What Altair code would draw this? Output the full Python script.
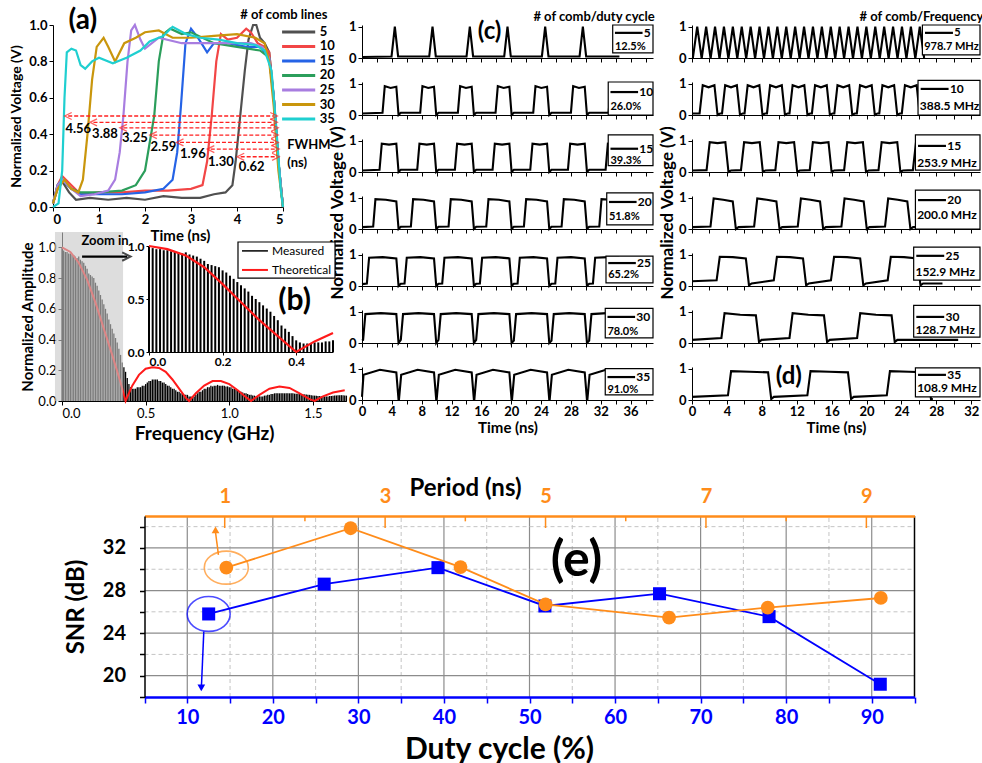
import altair as alt
import pandas as pd

FONT = "Lato"
ORANGE = "#ff8c1a"
BLUE = "#0000ff"
W, H = 982, 763
ONE = pd.DataFrame({"k": [0]})

# ---------------- (a) pulse shapes ----------------
a_names = ["5", "10", "15", "20", "25", "30", "35"]
a_colors = ["#505050", "#f24646", "#2563e6", "#2b9e5b", "#a87de0", "#c9960c", "#1fcfd0"]
a_t_5 = [0, 0.1, 0.2, 0.35, 0.5, 0.8, 1.2, 1.6, 2.0, 2.4, 2.8, 3.2, 3.5, 3.75, 3.9, 3.97, 4.07, 4.17, 4.25, 4.35, 4.42, 4.5, 4.6, 4.7, 4.8, 4.9, 5.0]
a_v_5 = [0.02, 0.1, 0.14, 0.08, 0.04, 0.05, 0.04, 0.05, 0.04, 0.06, 0.05, 0.05, 0.07, 0.08, 0.12, 0.25, 0.5, 0.75, 0.92, 1.0, 1.0, 0.93, 0.9, 0.85, 0.6, 0.25, 0.0]
a_t_10 = [0, 0.1, 0.2, 0.4, 0.6, 1.0, 1.5, 2.0, 2.5, 3.0, 3.25, 3.35, 3.45, 3.55, 3.65, 3.8, 4.0, 4.2, 4.3, 4.45, 4.6, 4.7, 4.8, 4.9, 5.0]
a_v_10 = [0.02, 0.12, 0.17, 0.12, 0.07, 0.08, 0.08, 0.09, 0.09, 0.1, 0.12, 0.25, 0.5, 0.8, 0.95, 0.92, 0.93, 0.98, 0.96, 0.9, 0.88, 0.85, 0.6, 0.25, 0.0]
a_t_15 = [0, 0.1, 0.2, 0.4, 0.6, 1.0, 1.5, 2.0, 2.4, 2.6, 2.7, 2.78, 2.88, 3.0, 3.15, 3.35, 3.5, 3.8, 4.2, 4.5, 4.7, 4.8, 4.9, 5.0]
a_v_15 = [0.02, 0.12, 0.15, 0.1, 0.07, 0.07, 0.07, 0.08, 0.1, 0.15, 0.3, 0.55, 0.9, 0.98, 0.93, 0.85, 0.9, 0.9, 0.88, 0.88, 0.82, 0.6, 0.25, 0.0]
a_t_20 = [0, 0.1, 0.2, 0.4, 0.6, 1.0, 1.5, 1.8, 2.0, 2.1, 2.2, 2.3, 2.4, 2.55, 2.8, 3.0, 3.5, 4.0, 4.5, 4.7, 4.8, 4.9, 5.0]
a_v_20 = [0.02, 0.12, 0.15, 0.1, 0.08, 0.08, 0.09, 0.12, 0.2, 0.35, 0.5, 0.8, 0.95, 0.98, 0.95, 0.96, 0.9, 0.88, 0.86, 0.82, 0.6, 0.25, 0.0]
a_t_25 = [0, 0.1, 0.2, 0.4, 0.6, 0.9, 1.2, 1.35, 1.45, 1.53, 1.62, 1.7, 1.78, 1.9, 2.0, 2.3, 2.8, 3.3, 3.8, 4.3, 4.55, 4.7, 4.8, 4.9, 5.0]
a_v_25 = [0.02, 0.12, 0.15, 0.1, 0.06, 0.07, 0.09, 0.15, 0.3, 0.5, 0.8, 0.97, 1.0, 0.92, 0.87, 0.93, 0.9, 0.9, 0.9, 0.9, 0.88, 0.82, 0.6, 0.25, 0.0]
a_t_30 = [0, 0.1, 0.25, 0.4, 0.55, 0.65, 0.75, 0.85, 0.95, 1.1, 1.2, 1.35, 1.55, 1.8, 2.0, 2.3, 2.6, 3.0, 3.5, 4.0, 4.4, 4.6, 4.7, 4.8, 4.9, 5.0]
a_v_30 = [0.02, 0.1, 0.15, 0.1, 0.08, 0.15, 0.4, 0.7, 0.88, 0.93, 0.88, 0.8, 0.9, 0.93, 0.96, 0.97, 0.93, 0.93, 0.94, 0.95, 0.93, 0.9, 0.8, 0.55, 0.2, 0.0]
a_t_35 = [0, 0.12, 0.2, 0.25, 0.3, 0.4, 0.5, 0.6, 0.7, 0.85, 1.0, 1.3, 1.6, 1.9, 2.1, 2.4, 2.6, 2.9, 3.2, 3.6, 4.0, 4.4, 4.6, 4.75, 4.85, 4.95, 5.0]
a_v_35 = [0.0, 0.02, 0.2, 0.6, 0.85, 0.87, 0.86, 0.78, 0.76, 0.8, 0.82, 0.79, 0.82, 0.86, 0.91, 0.94, 0.99, 0.95, 0.93, 0.92, 0.9, 0.89, 0.86, 0.75, 0.45, 0.1, 0.0]

fwhm_text = ["4.56", "3.88", "3.25", "2.59", "1.96", "1.30", "0.62"]
fwhm_level = [0.50, 0.465, 0.435, 0.395, 0.355, 0.318, 0.276]
fwhm_left = [0.33, 0.88, 1.53, 2.18, 2.76, 3.43, 4.08]
fwhm_right = [4.8, 4.8, 4.82, 4.82, 4.82, 4.84, 4.84]
fwhm_tx = [0.55, 1.13, 1.78, 2.4, 3.04, 3.65, 4.32]
fwhm_ty = [0.43, 0.40, 0.38, 0.33, 0.29, 0.25, 0.22]
a_leg_v = [0.962, 0.882, 0.802, 0.723, 0.643, 0.563, 0.484]

# ---------------- (b) spectrum ----------------
b_meas = [1.0, 0.98, 0.97, 0.97, 0.96, 0.96, 0.95, 0.95, 0.94, 0.93,
          0.94, 0.92, 0.91, 0.90, 0.88, 0.86, 0.83, 0.82, 0.81, 0.80,
          0.77, 0.75, 0.72, 0.69, 0.66, 0.63, 0.60, 0.57, 0.53, 0.50,
          0.47, 0.44, 0.41, 0.38, 0.34, 0.30, 0.25, 0.22, 0.19, 0.15,
          0.11, 0.09, 0.08, 0.08, 0.08, 0.09, 0.09, 0.09, 0.10, 0.10,
          0.11, 0.12, 0.13, 0.13, 0.14, 0.14, 0.14, 0.14, 0.13, 0.13,
          0.12, 0.12, 0.11, 0.10, 0.10, 0.09, 0.08, 0.08, 0.07, 0.06,
          0.06, 0.05, 0.05, 0.04, 0.04, 0.04, 0.03, 0.03, 0.03, 0.03,
          0.04, 0.05, 0.06, 0.06, 0.07, 0.08, 0.08, 0.09, 0.09, 0.10,
          0.095, 0.10, 0.10, 0.105, 0.10, 0.10, 0.10, 0.10, 0.095, 0.095,
          0.09, 0.09, 0.08, 0.08, 0.075, 0.07, 0.065, 0.06, 0.055, 0.05,
          0.05, 0.045, 0.04, 0.04, 0.035, 0.035, 0.03, 0.03, 0.03, 0.03,
          0.03, 0.035, 0.035, 0.04, 0.04, 0.045, 0.045, 0.05, 0.05, 0.05,
          0.05, 0.05, 0.05, 0.05, 0.05, 0.05, 0.05, 0.05, 0.05, 0.048,
          0.048, 0.047, 0.046, 0.045, 0.044, 0.043, 0.042, 0.04, 0.04, 0.038,
          0.036, 0.035, 0.034, 0.033, 0.032, 0.031, 0.03, 0.03, 0.03, 0.03,
          0.032, 0.033, 0.034, 0.035, 0.036, 0.037, 0.038, 0.038, 0.037, 0.036, 0.035]
b_freq = [round(0.01 * i, 2) for i in range(len(b_meas))]  # comb-line grid, 10 MHz spacing
b_theo_f = [0, 0.05, 0.1, 0.15, 0.2, 0.25, 0.3, 0.35, 0.38, 0.42, 0.46, 0.5, 0.54, 0.58, 0.62, 0.66, 0.7, 0.74, 0.76,
            0.8, 0.85, 0.9, 0.95, 1.0, 1.05, 1.1, 1.13, 1.18, 1.24, 1.3, 1.36, 1.42, 1.48, 1.51, 1.56, 1.62, 1.69]
b_theo_a = [1.0, 0.97, 0.9, 0.79, 0.64, 0.47, 0.3, 0.12, 0.0, 0.1, 0.17, 0.21, 0.22, 0.215, 0.19, 0.14, 0.08, 0.02, 0.0,
            0.05, 0.1, 0.13, 0.13, 0.11, 0.07, 0.025, 0.0, 0.04, 0.08, 0.095, 0.085, 0.05, 0.012, 0.0, 0.03, 0.055, 0.07]
ins_theo_f = [0, 0.05, 0.1, 0.15, 0.2, 0.25, 0.3, 0.35, 0.4, 0.45, 0.5]
ins_theo_a = [1.0, 0.97, 0.91, 0.8, 0.64, 0.47, 0.3, 0.15, 0.0, 0.1, 0.18]

# ---------------- (c) duty-cycle traces (edge times, ns) ----------------
c_rise_1 = [4.18, 9.23, 14.23, 19.28, 24.33, 29.38]
c_fall_1 = [4.62, 9.67, 14.67, 19.72, 24.77, 29.82]
c_fall = [4.75, 9.8, 14.85, 19.9, 24.95, 30.0, 35.05]
c_rise_2 = [2.9, 7.95, 13.0, 18.05, 23.1, 28.15, 33.2]
c_rise_3 = [2.5, 7.55, 12.6, 17.65, 22.7, 27.75, 32.8]
c_rise_4 = [1.65, 6.7, 11.75, 16.8, 21.85, 26.9, 31.95]
c_rise_5 = [0.8, 5.85, 10.9, 15.95, 21.0, 26.05, 31.1]
c_rise_6 = [0.3, 5.35, 10.4, 15.45, 20.5, 25.55, 30.6]
c_rise_7 = [0.05, 5.1, 10.15, 15.2, 20.25, 25.3, 30.35]
c_low0 = [0.03, 0.05, 0.05, 0.06, 0.06, 0.08, 0.1]
c_lowpre = [0.05, 0.07, 0.07, 0.08, 0.08, 0.1, 0.0]
c_low = [0.05, 0.07, 0.07, 0.07, 0.07, 0.08, 0.0]
c_h1 = [1.0, 0.92, 0.9, 0.95, 0.9, 0.92, 0.8]
c_hm = [1.0, 0.86, 0.87, 0.93, 0.92, 0.95, 0.96]
c_h2 = [1.0, 0.9, 0.9, 0.88, 0.88, 0.92, 0.88]
c_under = [0.05, 0.0, 0.0, 0.0, 0.0, 0.0, 0.0]
c_num = ["5", "10", "15", "20", "25", "30", "35"]
c_pct = ["12.5%", "26.0%", "39.3%", "51.8%", "65.2%", "78.0%", "91.0%"]

# ---------------- (d) repetition-rate traces (edge times, ns) ----------------
d_rise_1 = [0.35, 1.37, 2.39, 3.41, 4.43, 5.45, 6.47, 7.49, 8.51, 9.53, 10.55, 11.57, 12.59, 13.61, 14.63, 15.65, 16.67,
            17.69, 18.71, 19.73, 20.75, 21.77, 22.79, 23.81, 24.83, 25.85]
d_fall_1 = [0.85, 1.87, 2.89, 3.91, 4.93, 5.95, 6.97, 7.99, 9.01, 10.03, 11.05, 12.07, 13.09, 14.11, 15.13, 16.15, 17.17,
            18.19, 19.21, 20.23, 21.25, 22.27, 23.29, 24.31, 25.33, 26.35]
d_rise_2 = [1.05, 3.62, 6.2, 8.77, 11.35, 13.92, 16.49, 19.07, 21.64, 24.22]
d_fall_2 = [2.75, 5.32, 7.9, 10.47, 13.05, 15.62, 18.19, 20.77, 23.34, 25.92]
d_rise_3 = [1.85, 5.79, 9.73, 13.67, 17.61, 21.55, 25.49]
d_fall_3 = [4.0, 7.94, 11.88, 15.82, 19.76, 23.7, 27.64]
d_rise_4 = [2.3, 7.3, 12.3, 17.3, 22.3]
d_fall_4 = [4.85, 9.85, 14.85, 19.85, 24.85]
d_rise_5 = [3.0, 9.55, 16.1, 22.6]
d_fall_5 = [6.35, 12.9, 19.45, 26.0]
d_rise_6 = [3.55, 11.35, 19.1]
d_fall_6 = [7.5, 15.3, 23.05]
d_rise_7 = [4.3, 13.4, 22.5]
d_fall_7 = [8.9, 18.05, 27.2]
d_end = [26.6, 26.5, 26.0, 27.0, 28.7, 30.5, 27.6]
d_low0 = [0.0, 0.05, 0.05, 0.06, 0.15, 0.1, 0.1]
d_lowpre = [0.0, 0.05, 0.06, 0.08, 0.18, 0.16, 0.15]
d_low = [0.0, 0.05, 0.05, 0.06, 0.08, 0.1, 0.1]
d_h1 = [1.0, 0.95, 0.95, 0.97, 0.93, 0.95, 0.92]
d_hm = [1.0, 0.88, 0.92, 0.93, 0.92, 0.9, 0.9]
d_h2 = [1.0, 0.95, 0.95, 0.88, 0.88, 0.88, 0.88]
d_under = [0.0, 0.0, 0.0, 0.0, 0.02, 0.03, 0.03]
d_freq = ["978.7 MHz", "388.5 MHz", "253.9 MHz", "200.0 MHz", "152.9 MHz", "128.7 MHz", "108.9 MHz"]

# ---------------- (e) SNR ----------------
e_duty = [12.5, 26.0, 39.3, 51.8, 65.2, 78.0, 91.0]
e_snr_duty = [25.8, 28.6, 30.15, 26.55, 27.7, 25.55, 19.2]
e_period = [1.02, 2.57, 3.94, 5.00, 6.54, 7.77, 9.18]
e_snr_period = [30.15, 33.85, 30.2, 26.7, 25.45, 26.4, 27.3]
e_grid_major_x = [10, 20, 30, 40, 50, 60, 70, 80, 90]
e_grid_minor_x = [15, 25, 35, 45, 55, 65, 75, 85]
e_grid_major_y = [20, 24, 28, 32]
e_grid_minor_y = [22, 26, 30, 34]


# ---------------- helpers ----------------
def wave_df(rises, falls, e, low0, lowpre, low, h1, hm, h2, under, rec, t_end):
    pts = [(0.0, low0)]
    n = len(rises)
    for k in range(n):
        r, f = rises[k], falls[k]
        if r - e > pts[-1][0]:
            pts.append((r - e, lowpre))
        pts += [(r + e, h1), ((r + f) / 2, hm), (f - e, h2), (f + e, under)]
        nxt = rises[k + 1] - e if k + 1 < n else t_end
        if f + e + rec < nxt:
            pts.append((f + e + rec, low))
    kept = [p for p in pts if p[0] <= t_end]
    if kept[-1][0] < t_end:
        kept.append((t_end, kept[-1][1]))
    return pd.DataFrame(kept, columns=["t", "v"])


def sc(domain, rng):
    return alt.Scale(domain=domain, range=rng, nice=False, zero=False)


def txt(x, y, s, size, weight="bold", align="center", baseline="middle", color="black"):
    return alt.Chart(ONE).mark_text(text=s, fontSize=size, fontWeight=weight, align=align,
                                    baseline=baseline, color=color, font=FONT).encode(
        x=alt.datum(x), y=alt.datum(y))


def seg(x1, x2, y1, y2, color="black", width=1.5, dash=None):
    kw = dict(color=color, strokeWidth=width)
    if dash:
        kw["strokeDash"] = dash
    return alt.Chart(ONE).mark_rule(**kw).encode(x=alt.datum(x1), x2=alt.datum(x2), y=alt.datum(y1), y2=alt.datum(y2))


def box(x1, x2, y1, y2):
    return alt.Chart(ONE).mark_rect(fill="white", stroke="black", strokeWidth=1.2).encode(
        x=alt.datum(x1), x2=alt.datum(x2), y=alt.datum(y1), y2=alt.datum(y2))


children = []

# ---------------- panel (a) ----------------
a_rows = []
for name, ts, vs in zip(a_names, [a_t_5, a_t_10, a_t_15, a_t_20, a_t_25, a_t_30, a_t_35],
                        [a_v_5, a_v_10, a_v_15, a_v_20, a_v_25, a_v_30, a_v_35]):
    for t, v in zip(ts, vs):
        a_rows.append({"n": name, "t": t, "v": v})
a_df = pd.DataFrame(a_rows)
a_color = alt.Color("n:N", scale=alt.Scale(domain=a_names, range=a_colors), legend=None)

a_lines = alt.Chart(a_df).mark_line(strokeWidth=2.2).encode(
    x=alt.X("t:Q", scale=sc([0, 5], [53, 283]),
            axis=alt.Axis(orient="bottom", offset=207 - H, values=[0, 1, 2, 3, 4, 5], format="d",
                          title="Time (ns)", titleFontSize=15, labelFontSize=13, labelFontWeight="bold",
                          tickSize=4, labelPadding=2, titlePadding=2, titleX=180, titleAlign="center")),
    y=alt.Y("v:Q", scale=sc([0, 1], [207, 25]),
            axis=alt.Axis(orient="left", offset=-53, values=[0, 0.2, 0.4, 0.6, 0.8, 1.0], format=".1f",
                          title="Normalized Voltage (V)", titleFontSize=14, labelFontSize=13,
                          labelFontWeight="bold", tickSize=4, labelPadding=2, titlePadding=5)),
    color=a_color)

arr_df = pd.DataFrame({"t": fwhm_left, "t2": fwhm_right, "v": fwhm_level})
a_arrows = alt.Chart(arr_df).mark_rule(color="#ff2020", strokeWidth=1.3, strokeDash=[4, 2]).encode(
    x="t:Q", x2="t2:Q", y="v:Q")
a_head_l = alt.Chart(arr_df).mark_point(shape="M 1 -1 L -1 0 L 1 1", size=50, filled=False,
                                        color="#ff2020", strokeWidth=1.3).encode(x="t:Q", y="v:Q")
a_head_r = alt.Chart(arr_df).mark_point(shape="M -1 -1 L 1 0 L -1 1", size=50, filled=False,
                                        color="#ff2020", strokeWidth=1.3).encode(x="t2:Q", y="v:Q")
lab_df = pd.DataFrame({"t": fwhm_tx, "v": fwhm_ty, "s": fwhm_text})
a_labs = alt.Chart(lab_df).mark_text(fontSize=13, fontWeight="bold", font=FONT).encode(x="t:Q", y="v:Q", text="s:N")
leg_df = pd.DataFrame({"n": a_names, "v": a_leg_v})
a_leg_lines = alt.Chart(leg_df).mark_rule(strokeWidth=3).encode(
    x=alt.datum(4.98), x2=alt.datum(5.7), y="v:Q", color=a_color)
a_leg_text = alt.Chart(leg_df).mark_text(fontSize=13, fontWeight="bold", align="left", font=FONT).encode(
    x=alt.datum(5.8), y="v:Q", text="n:N")
children.append(alt.layer(
    a_lines, a_arrows, a_head_l, a_head_r, a_labs, a_leg_lines, a_leg_text,
    txt(4.07, 1.055, "# of comb lines", 13, align="left"),
    txt(5.09, 0.34, "FWHM", 13, align="left"),
    txt(5.09, 0.24, "(ns)", 13, align="left"),
    txt(0.65, 1.02, "(a)", 28),
))

# ---------------- panel (b) ----------------
meas_df = pd.DataFrame({"f": b_freq, "amp": b_meas})
b_bars = alt.Chart(meas_df).mark_rule(color="black", strokeWidth=1.3).encode(
    x=alt.X("f:Q", scale=sc([0, 1.7], [62, 346.4]),
            axis=alt.Axis(orient="bottom", offset=401 - H, values=[0, 0.5, 1.0, 1.5], format=".1f",
                          title="Frequency (GHz)", titleFontSize=19, labelFontSize=13, tickSize=4,
                          labelPadding=2, titlePadding=4)),
    y=alt.Y("amp:Q", scale=sc([0, 1.1], [401, 232]),
            axis=alt.Axis(orient="left", offset=-62, values=[0, 0.2, 0.4, 0.6, 0.8, 1.0], format=".1f",
                          title="Normalized Amplitude", titleFontSize=15, labelFontSize=13, tickSize=4,
                          labelPadding=2, titlePadding=2)),
    y2=alt.datum(0))
theo_df = pd.DataFrame({"f": b_theo_f, "amp": b_theo_a})
b_theo = alt.Chart(theo_df).mark_line(color="#ff1a1a", strokeWidth=2).encode(x="f:Q", y="amp:Q")
b_shade = alt.Chart(ONE).mark_rect(fill="#c8c8c8", opacity=0.62).encode(
    x=alt.datum(-0.042), x2=alt.datum(0.365), y=alt.datum(0), y2=alt.datum(1.1))
b_arrow_head = alt.Chart(ONE).mark_point(shape="M -1 -1 L 1 0 L -1 1", size=70, filled=False, color="black",
                                         strokeWidth=2).encode(x=alt.datum(0.385), y=alt.datum(0.94))
children.append(alt.layer(
    b_bars, b_theo, b_shade,
    txt(0.257, 1.04, "Zoom in", 13),
    seg(0.12, 0.39, 0.94, 0.94, width=2.2), b_arrow_head,
    box(1.052, 1.632, 0.80, 1.035),
    seg(1.076, 1.231, 0.977, 0.977, width=1.5),
    seg(1.076, 1.231, 0.853, 0.853, color="#ff1a1a", width=2),
    txt(1.255, 0.977, "Measured", 12, weight="normal", align="left"),
    txt(1.255, 0.853, "Theoretical", 12, weight="normal", align="left"),
    txt(1.39, 0.65, "(b)", 30),
))

ins_meas = meas_df[meas_df["f"] <= 0.5]
ins_x = alt.X("f:Q", scale=sc([0, 0.5], [149, 333]),
              axis=alt.Axis(orient="bottom", offset=352 - H, values=[0, 0.2, 0.4], format=".1f", title=None,
                            labelFontSize=12, labelFontWeight="bold", tickSize=3, labelPadding=1))
ins_y = alt.Y("amp:Q", scale=sc([0, 1.0], [352, 246]),
              axis=alt.Axis(orient="left", offset=-149, values=[0, 0.5, 1.0], format=".1f", title=None,
                            labelFontSize=12, labelFontWeight="bold", tickSize=3, labelPadding=2))
ins_bars = alt.Chart(ins_meas).mark_rule(color="black", strokeWidth=2).encode(x=ins_x, y=ins_y, y2=alt.datum(0))
ins_theo = alt.Chart(pd.DataFrame({"f": ins_theo_f, "amp": ins_theo_a})).mark_line(
    color="#ff1a1a", strokeWidth=2.2).encode(x="f:Q", y="amp:Q")
children.append(alt.layer(ins_bars, ins_theo))


# ---------------- panels (c) and (d) ----------------
ROW_TOP = [25 + 57 * i for i in range(7)]
ROW_H = 33


def trace_row(df, xdom, xrng, top, bottom, ytitle, xvals):
    xaxis = alt.Axis(orient="bottom", offset=top + ROW_H - H, values=xvals, labels=bottom,
                     labelExpr="datum.value % 4 == 0 ? datum.label : ''",
                     title="Time (ns)" if bottom else None, titleFontSize=15, labelFontSize=13,
                     labelFontWeight="bold", tickSize=4, labelPadding=1, titlePadding=2, labelFlush=False)
    yaxis = alt.Axis(orient="left", offset=-xrng[0], values=[0, 1], format="d", title=ytitle, titleFontSize=17,
                     labelFontSize=13, labelFontWeight="bold", tickSize=4, labelPadding=2, titlePadding=2)
    return alt.Chart(df).mark_line(color="black", strokeWidth=2.1).encode(
        x=alt.X("t:Q", scale=sc(xdom, xrng), axis=xaxis),
        y=alt.Y("v:Q", scale=sc([0, 1.05], [top + ROW_H, top]), axis=yaxis))


c_box_x = [33.6, 33.0, 33.0, 32.8, 32.7, 32.6, 32.6]
c_box_y1 = [0.16, 0.0, 0.2, 0.13, 0.1, 0.16, 0.16]
c_box_y2 = [1.05, 1.05, 1.18, 1.15, 0.95, 1.1, 1.0]
c_line_y = [0.80, 0.73, 0.74, 0.86, 0.73, 0.83, 0.73]
c_pct_y = [0.36, 0.25, 0.34, 0.38, 0.35, 0.35, 0.32]
c_rises = [c_rise_1, c_rise_2, c_rise_3, c_rise_4, c_rise_5, c_rise_6, c_rise_7]
c_falls = [c_fall_1, c_fall, c_fall, c_fall, c_fall, c_fall, c_fall]
c_x_vals = list(range(0, 40, 2))

for i in range(7):
    e = 0.22 if i == 0 else 0.15
    df = wave_df(c_rises[i], c_falls[i], e, c_low0[i], c_lowpre[i], c_low[i], c_h1[i], c_hm[i], c_h2[i],
                 c_under[i], 0.3, 34.5)
    bx = c_box_x[i]
    layers = [
        trace_row(df, [0, 39], [362, 653], ROW_TOP[i], i == 6, "Normalized Voltage (V)" if i == 3 else None,
                  c_x_vals),
        box(bx, 39, c_box_y1[i], c_box_y2[i]),
        seg(bx + 0.3, bx + 4.0, c_line_y[i], c_line_y[i], width=2.2),
        txt(bx + 4.15, c_line_y[i], c_num[i], 12, align="left"),
        txt(bx + 0.3, c_pct_y[i], c_pct[i], 11, align="left"),
    ]
    if i == 0:
        layers += [txt(31.1, 1.30, "# of comb/duty cycle", 13), txt(17.1, 0.83, "(c)", 24)]
    children.append(alt.layer(*layers))

d_box_x = [26.4, 25.9, 25.6, 25.6, 25.4, 25.4, 25.6]
d_box_y1 = [0.1, 0.0, 0.06, 0.0, 0.19, 0.19, 0.1]
d_box_y2 = [1.05, 1.1, 1.18, 1.24, 1.24, 1.2, 1.02]
d_line_y = [0.8, 0.83, 0.83, 0.92, 0.96, 0.83, 0.8]
d_lab_y = [0.35, 0.29, 0.29, 0.44, 0.46, 0.41, 0.38]
d_rises = [d_rise_1, d_rise_2, d_rise_3, d_rise_4, d_rise_5, d_rise_6, d_rise_7]
d_falls = [d_fall_1, d_fall_2, d_fall_3, d_fall_4, d_fall_5, d_fall_6, d_fall_7]
d_x_vals = list(range(0, 34, 2))

for i in range(7):
    e = 0.25 if i == 0 else 0.18
    df = wave_df(d_rises[i], d_falls[i], e, d_low0[i], d_lowpre[i], d_low[i], d_h1[i], d_hm[i], d_h2[i],
                 d_under[i], 0.3, d_end[i])
    bx = d_box_x[i]
    fs = 11 if i == 0 else 12
    layers = [
        trace_row(df, [0, 33], [692, 980], ROW_TOP[i], i == 6, "Normalized Voltage (V)" if i == 3 else None,
                  d_x_vals),
        box(bx, 33, d_box_y1[i], d_box_y2[i]),
        seg(bx + 0.3, bx + 3.5, d_line_y[i], d_line_y[i], width=2.2),
        txt(bx + 3.65, d_line_y[i], c_num[i], fs, align="left"),
        txt(bx + 0.2, d_lab_y[i], d_freq[i], fs, align="left"),
    ]
    if i == 0:
        layers += [txt(26.3, 1.30, "# of comb/Frequency", 13)]
    if i == 6:
        layers += [txt(11.1, 0.73, "(d)", 24)]
    children.append(alt.layer(*layers))

# ---------------- panel (e) ----------------
duty_scale = sc([5, 95], [144.5, 914.5])
snr_scale = sc([18, 35], [697, 516])
bottom_axis = alt.Axis(orient="bottom", offset=697 - H, values=list(range(5, 100, 5)),
                       labelExpr="datum.value % 10 == 0 ? datum.label : ''",
                       labelColor=BLUE, labelFontSize=20, labelFontWeight="bold", tickColor=BLUE, tickSize=6,
                       tickWidth=1.5, domainColor=BLUE, domainWidth=2.5, labelPadding=4, zindex=2,
                       title="Duty cycle (%)", titleFontSize=30, titleX=499, titleY=61,
                       titleBaseline="alphabetic", titleAlign="center")
left_axis = alt.Axis(orient="left", offset=-144.5, values=list(range(18, 36, 2)),
                     labelExpr="datum.value % 4 == 0 ? datum.label : ''", zindex=2,
                     labelFontSize=20, labelFontWeight="bold", tickSize=5, tickWidth=1.5, domainWidth=1.5,
                     labelPadding=14, title="SNR (dB)", titleFontSize=24, titlePadding=14)

g_major_x = alt.Chart(pd.DataFrame({"duty": e_grid_major_x})).mark_rule(color="#8c8c8c", strokeWidth=1.2).encode(
    x=alt.X("duty:Q", scale=duty_scale, axis=bottom_axis), y=alt.datum(18), y2=alt.datum(35))
g_minor_x = alt.Chart(pd.DataFrame({"duty": e_grid_minor_x})).mark_rule(
    color="#c4c4c4", strokeWidth=1, strokeDash=[4, 3]).encode(x="duty:Q", y=alt.datum(18), y2=alt.datum(35))
g_major_y = alt.Chart(pd.DataFrame({"snr": e_grid_major_y})).mark_rule(color="#8c8c8c", strokeWidth=1.2).encode(
    y=alt.Y("snr:Q", scale=snr_scale, axis=left_axis), x=alt.datum(5), x2=alt.datum(95))
g_minor_y = alt.Chart(pd.DataFrame({"snr": e_grid_minor_y})).mark_rule(
    color="#c4c4c4", strokeWidth=1, strokeDash=[4, 3]).encode(y="snr:Q", x=alt.datum(5), x2=alt.datum(95))

blue_df = pd.DataFrame({"duty": e_duty, "snr": e_snr_duty})
blue_line = alt.Chart(blue_df).mark_line(color=BLUE, strokeWidth=1.8).encode(x="duty:Q", y="snr:Q")
blue_pts = alt.Chart(blue_df).mark_point(shape="square", filled=True, size=170, color=BLUE, opacity=1).encode(
    x="duty:Q", y="snr:Q")
ELL_B = "M -1 0 A 1 0.81 0 1 1 1 0 A 1 0.81 0 1 1 -1 0 Z"
ELL_O = "M -1 0 A 1 0.75 0 1 1 1 0 A 1 0.75 0 1 1 -1 0 Z"
blue_ell = alt.Chart(blue_df.iloc[:1]).mark_point(shape=ELL_B, size=1849, filled=False, color=BLUE,
                                                  strokeWidth=1.6).encode(x="duty:Q", y="snr:Q")
blue_head = alt.Chart(ONE).mark_point(shape="triangle-down", size=60, filled=True, color=BLUE, opacity=1).encode(
    x=alt.datum(11.64), y=alt.datum(18.85))
orange_head = alt.Chart(ONE).mark_point(shape="triangle-up", size=60, filled=True, color=ORANGE, opacity=1).encode(
    x=alt.datum(13.3), y=alt.datum(33.7))
children.append(alt.layer(
    g_major_x, g_minor_x, g_major_y, g_minor_y,
    seg(95, 95, 18, 35, width=1.5),
    blue_line, blue_pts, blue_ell,
    seg(11.93, 11.66, 24.14, 19.1, color=BLUE, width=1.5), blue_head,
    seg(13.64, 13.3, 31.35, 33.5, color=ORANGE, width=1.5), orange_head,
    txt(55.5, 30.8, "(e)", 50),
))

top_axis = alt.Axis(orient="top", offset=-516, values=[1, 3, 5, 7, 9], format="d", ticks=False, labelColor=ORANGE,
                    labelFontSize=20, labelFontWeight="bold", labelPadding=10, domainColor=ORANGE, domainWidth=2.5,
                    zindex=2, title="Period (ns)", titleFontSize=24, titleX=465, titleY=-21,
                    titleBaseline="alphabetic", titleAlign="center")
orange_df = pd.DataFrame({"period": e_period, "snr": e_snr_period})
orange_line = alt.Chart(orange_df).mark_line(color=ORANGE, strokeWidth=1.8).encode(
    x=alt.X("period:Q", scale=sc([0, 9.6], [144.5, 914.5]), axis=top_axis),
    y=alt.Y("snr:Q", scale=snr_scale, axis=None))
orange_pts = alt.Chart(orange_df).mark_point(shape="circle", filled=True, size=190, color=ORANGE, opacity=1).encode(
    x="period:Q", y="snr:Q")
orange_ell = alt.Chart(orange_df.iloc[:1]).mark_point(shape=ELL_O, size=1936, filled=False, color=ORANGE,
                                                      strokeWidth=1.6).encode(x="period:Q", y="snr:Q")
tick_major = alt.Chart(pd.DataFrame({"period": [1, 3, 5, 7, 9]})).mark_rule(color=ORANGE, strokeWidth=1.5).encode(
    x="period:Q", y=alt.datum(35), y2=alt.datum(33.87))
tick_minor = alt.Chart(pd.DataFrame({"period": [2, 4, 6, 8]})).mark_rule(color=ORANGE, strokeWidth=1.5).encode(
    x="period:Q", y=alt.datum(35), y2=alt.datum(34.5))
children.append(alt.layer(orange_line, tick_major, tick_minor, orange_pts, orange_ell))

chart = alt.layer(*children).resolve_scale(x="independent", y="independent").properties(
    width=W, height=H, padding=0, autosize=alt.AutoSizeParams(type="none")
).configure_axis(
    labelFont=FONT, titleFont=FONT, domainColor="black", tickColor="black", labelColor="black",
    titleColor="black", grid=False, titleFontWeight="bold"
).configure_view(stroke="transparent").configure_text(font=FONT)

chart.save("out.html", embed_options={"renderer": "svg", "actions": False})
